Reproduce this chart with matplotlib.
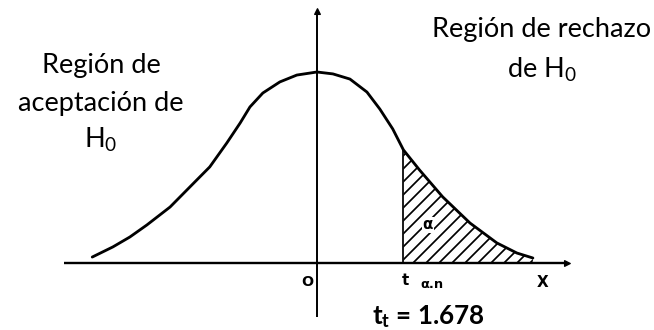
import numpy as np
import matplotlib
matplotlib.use("Agg")
import matplotlib.pyplot as plt

# curve (x in t units, height relative to peak)
curve_x = [-4.36, -3.96, -3.63, -3.30, -2.85, -2.33, -2.08, -1.75, -1.49, -1.30,
           -1.05, -0.72, -0.39, 0.0, 0.31, 0.64, 0.97, 1.22, 1.47, 1.678,
           1.99, 2.44, 2.97, 3.49, 3.88, 4.19]
curve_y = [0.031, 0.084, 0.136, 0.199, 0.293, 0.435, 0.503, 0.628, 0.733, 0.817,
           0.890, 0.948, 0.984, 1.0, 0.990, 0.963, 0.895, 0.806, 0.702, 0.592,
           0.487, 0.346, 0.209, 0.105, 0.052, 0.026]
t_crit = 1.678

left_lines = ["Región de", "aceptación de", "H$_0$"]
right_lines = ["Región de rechazo", "de H$_0$"]

plt.rcParams['mathtext.fontset'] = 'custom'
plt.rcParams['mathtext.rm'] = 'Lato'
plt.rcParams['mathtext.it'] = 'Lato:italic'
plt.rcParams['mathtext.bf'] = 'Lato:bold'
plt.rcParams['hatch.linewidth'] = 1.6

DPI = 78
fig = plt.figure(figsize=(654 / DPI, 330 / DPI), dpi=DPI)
ax = fig.add_axes([0, 0, 1, 1])
ax.set_xlim(-6.15, 6.54)
ax.set_ylim(-0.351, 1.377)
ax.axis('off')

cx = np.array(curve_x)
cy = np.array(curve_y)

# axes of the sketch
ax.plot([-4.91, 4.85], [0, 0], color='black', lw=2.2, solid_capstyle='butt')
ax.plot([0, 0], [-0.283, 1.32], color='black', lw=1.8, solid_capstyle='butt')
ax.plot([4.85], [0], marker='>', color='black', ms=5)
ax.plot([0], [1.32], marker='^', color='black', ms=5)

# rejection region
m = cx >= t_crit
ax.fill_between(cx[m], 0, cy[m], facecolor='none', edgecolor='black',
                hatch='//', linewidth=0)
ax.plot([t_crit, t_crit], [0, cy[m][0]], color='black', lw=1.6)

ax.plot(cx, cy, color='black', lw=2.6, solid_capstyle='round',
        solid_joinstyle='round')

# scribbled alpha inside the hatched area
ax.text(2.15, 0.20, 'α', fontsize=14, fontweight='bold', ha='center', va='center',
        bbox=dict(facecolor='white', edgecolor='none', pad=0.5))

ax.text(-0.19, -0.10, 'O', fontsize=13, fontweight='bold', family='DejaVu Sans',
        ha='center', va='center')
ax.text(1.72, -0.09, 't', fontsize=14, fontweight='bold', family='DejaVu Sans',
        ha='center', va='center')
ax.text(2.24, -0.115, 'α.n', fontsize=12, fontweight='bold', family='DejaVu Sans',
        ha='center', va='center')
ax.text(4.38, -0.10, 'X', fontsize=14, fontweight='bold', family='DejaVu Sans',
        ha='center', va='center')

ax.text(2.15, -0.283, 't$_\\mathbf{t}$ = 1.678', fontsize=24, fontweight='bold',
        family='Lato', ha='center', va='center')

ly = [65, 103, 140]
for s, y in zip(left_lines, ly):
    fig.text(101 / 654, 1 - y / 330, s, fontsize=25, family='Lato',
             ha='center', va='center')
ry = [30, 70]
for s, y in zip(right_lines, ry):
    fig.text(542 / 654, 1 - y / 330, s, fontsize=25, family='Lato',
             ha='center', va='center')

fig.savefig('out.png', dpi=DPI)
